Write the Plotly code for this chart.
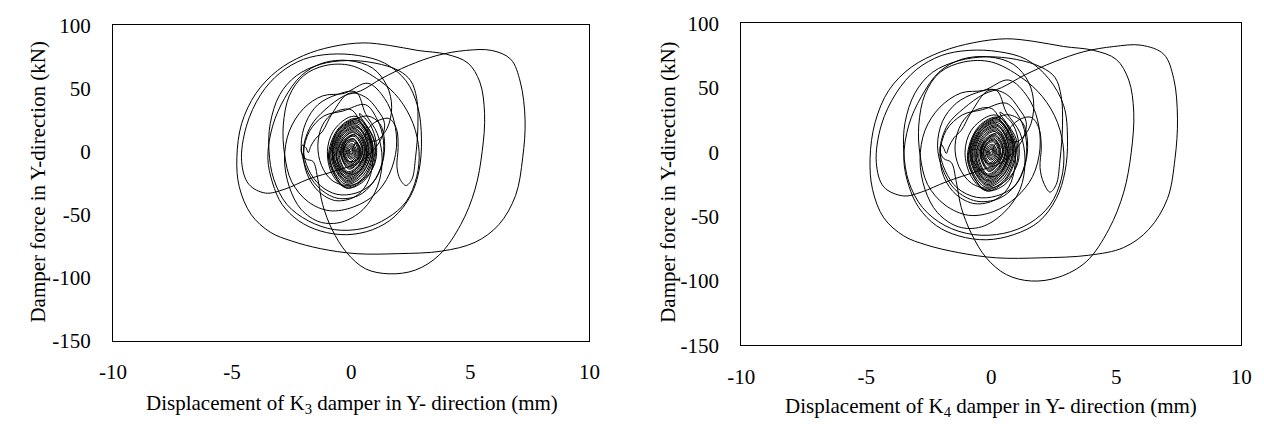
import plotly.graph_objects as go

# ---- K3 damper: displacement (mm) / force (kN) trace, in time order ----
k3_disp = [
    # start-up
    0.0, 0.2, 0.4, 0.3, -0.1, -0.35, -0.2, 0.2, 0.6, 0.55, 0.1, -0.5, -0.8, -0.6, 0.0,
    0.7, 1.2, 1.4, 1.3, 0.9, 0.2, -0.6, -1.3, -1.8, -2.0, -1.7, -1.1, -0.3, 0.4,
    # largest cycles
    1.3, 2.4, 3.6, 4.8, 5.9, 6.7, 7.1, 7.3, 7.2, 6.9, 6.2, 5.2, 3.8, 2.0, 0.2, -1.3, -2.5, -3.4, -4.2, -4.7,
    -4.8, -4.6, -4.0, -3.1, -2.0, -0.8, 0.5, 1.6,
    2.8, 4.0, 4.9, 5.4, 5.6, 5.5, 5.2, 4.6, 3.7, 2.7, 1.6, 0.6, -0.2, -0.8, -1.2, -1.4,
    -1.6, -1.9, -2.1, -2.05, -1.9, -1.8, -1.7, -1.5, -1.2, -0.8, -0.1, 0.6, 1.1, 1.4,
    1.2, 0.4, -0.6, -1.8, -2.8, -3.6, -4.3, -4.6, -4.4, -3.8, -3.0, -2.0, -0.9, 0.3, 1.4, 2.3, 2.8, 2.95,
    2.85, 2.5, 1.8, 0.9, -0.2, -1.3, -2.2, -2.9, -3.3, -3.5, -3.3, -2.8, -2.1, -1.2, -0.1,
    0.9, 1.5, 1.7, 1.5, 1.0, 0.6, 0.8, 1.2, 1.6, 1.9, 1.97, 1.92, 2.05, 2.3, 2.55, 2.7, 2.8, 2.75, 2.5, 2.0,
    # decaying medium cycles
    1.0, -0.2, -1.3, -2.3, -3.0, -3.4, -3.45, -3.25, -2.7, -1.8, -0.7, 0.5, 1.5, 2.3, 2.75, 2.85, 2.6, 2.0, 1.2,
    0.0, -1.1, -2.0, -2.6, -2.85, -2.8, -2.5, -1.8, -0.9, 0.1, 1.0, 1.6, 1.9, 1.8, 1.4, 0.7,
    -0.3, -1.2, -2.0, -2.6, -2.8, -2.6, -2.1, -1.3, -0.4, 0.5, 1.1, 1.3, 1.1, 0.6,
    0.2, -0.6, -1.4, -1.9, -2.1, -1.9, -1.4, -0.6, 0.3, 0.9, 1.3, 1.35, 1.1, 0.6,
    -0.35, -1.15, -1.75, -2.0, -1.85, -1.35, -0.65, 0.15, 0.65, 0.9, 0.85, 0.45,
    0.0, -0.7, -1.2, -1.4, -1.25, -0.8, -0.1, 0.6, 1.0, 1.05, 0.8, 0.35,
    # dense core
    0.35, 0.95, 0.95, 0.5, -0.2, -0.8, -1.0, -0.75, -0.1,
    0.3, 1.0, 0.6, -0.2, -0.95, -0.5,
    0.3, 0.92, 0.55, -0.25, -0.9, -0.5,
    0.25, 0.9, 0.5, -0.25, -0.9, -0.45,
    0.3, 0.85, 0.45, -0.2, -0.85, -0.4,
    0.3, 0.85, 0.45, -0.2, -0.8, -0.4,
    0.25, 0.8, 0.42, -0.18, -0.78, -0.42,
    0.2, 0.75, 0.4, -0.15, -0.75, -0.4,
    0.22, 0.72, 0.38, -0.2, -0.7, -0.36,
    0.25, 0.7, 0.35, -0.2, -0.65, -0.35,
    0.2, 0.65, 0.32, -0.16, -0.62, -0.32,
    0.2, 0.6, 0.3, -0.15, -0.6, -0.3,
    0.18, 0.58, 0.3, -0.15, -0.55, -0.28,
    0.15, 0.55, 0.3, -0.15, -0.5, -0.25,
    0.15, 0.5, 0.25, -0.1, -0.45, -0.25,
    0.14, 0.48, 0.24, -0.1, -0.43, -0.22,
    0.12, 0.45, 0.22, -0.1, -0.4, -0.2,
    0.1, 0.38, 0.2, -0.08, -0.35, -0.18,
    0.1, 0.35, 0.18, -0.08, -0.32, -0.16,
    0.1, 0.32, 0.15, -0.08, -0.3, -0.15,
    0.08, 0.28, 0.12, -0.06, -0.25, -0.12,
    0.06, 0.22, 0.1, -0.05, -0.2, -0.1,
    0.05, 0.18, 0.08, -0.04, -0.16, -0.08,
    0.04, 0.14, 0.06, -0.03, -0.12, -0.06,
    0.03, 0.1, 0.04, -0.02, -0.08, -0.04,
    0.02, 0.06, 0.02, -0.02, -0.05, 0.0,
]
k3_force = [
    0, 7, 2, -6, -8, -1, 9, 14, 6, -10, -18, -13, 0, 15, 24,
    28, 22, 8, -10, -25, -33, -34, -27, -14, 2, 20, 33, 44, 48,
    58, 68, 76, 80, 80, 73, 55, 25, -5, -35, -58, -72, -79, -81, -81, -77, -71, -64, -50, -28,
    -5, 22, 46, 64, 76, 83, 86, 84,
    80, 77, 70, 55, 30, 0, -30, -58, -82, -94, -97, -93, -80, -62, -42, -22,
    -8, -6, 0, 5, 3, -1, 4, 10, 16, 30, 46, 43, 33, 22,
    8, -8, -15, -22, -30, -33, -26, -8, 20, 45, 62, 73, 77, 76, 70, 56, 35, 10,
    -15, -35, -52, -62, -66, -63, -55, -42, -25, -5, 20, 42, 60, 70, 72,
    66, 52, 35, 18, 8, 12, 20, 25, 26, 18, 3, -12, -22, -27, -22, -5, 20, 42, 56, 64,
    70, 72, 69, 60, 45, 22, 0, -22, -42, -55, -62, -61, -53, -40, -20, 0, 22, 42, 56,
    68, 68, 60, 44, 21, -2, -24, -40, -47, -44, -34, -18, 3, 24, 42, 54,
    46, 44, 34, 16, -6, -28, -46, -56, -56, -46, -28, -6, 14, 30,
    47, 45, 37, 23, 5, -13, -28, -37, -35, -25, -9, 9, 25, 37,
    32, 28, 16, -1, -18, -32, -39, -36, -26, -10, 8, 21,
    33, 31, 21, 5, -11, -23, -27, -21, -9, 7, 21, 30,
    29, 10, -10, -24, -29, -18, 0, 16, 27,
    27, 5, -20, -29, -6, 19,
    26, 4, -20, -28, -6, 18,
    25, 4, -19, -26, -5, 17,
    24, 3, -18, -25, -4, 17,
    23, 3, -17, -24, -4, 16,
    22, 4, -16, -23, -5, 15,
    21, 4, -15, -22, -5, 14,
    20, 3, -15, -21, -4, 14,
    19, 3, -14, -20, -3, 13,
    18, 3, -13, -19, -4, 12,
    17, 3, -12, -18, -4, 11,
    16, 2, -12, -17, -3, 11,
    15, 2, -11, -16, -3, 10,
    13, 2, -10, -14, -2, 9,
    13, 2, -10, -13, -2, 9,
    12, 2, -9, -12, -2, 8,
    10, 1, -8, -11, -2, 7,
    10, 1, -8, -10, -1, 7,
    9, 1, -7, -9, -1, 6,
    8, 1, -6, -8, -1, 5,
    6, 1, -5, -6, -1, 4,
    5, 0, -4, -5, -1, 3,
    4, 0, -3, -4, 0, 2,
    3, 0, -2, -3, 0, 2,
    2, 0, -1.5, -2, 0, 0,
]

# ---- K4 damper: displacement (mm) / force (kN) trace, in time order ----
k4_disp = [
    0.0, 0.2, 0.45, 0.3, -0.1, -0.4, -0.2, 0.25, 0.6, 0.55, 0.1, -0.5, -0.85, -0.6, 0.0,
    0.7, 1.25, 1.45, 1.35, 0.95, 0.2, -0.6, -1.35, -1.85, -2.05, -1.75, -1.1, -0.3, 0.4,
    1.35, 2.5, 3.7, 4.9, 6.0, 6.9, 7.3, 7.45, 7.35, 7.05, 6.3, 5.3, 3.9, 2.0, 0.2, -1.3, -2.6, -3.5, -4.3, -4.75,
    -4.85, -4.65, -4.1, -3.2, -2.0, -0.7, 0.6, 1.7,
    2.9, 4.1, 5.0, 5.5, 5.7, 5.6, 5.3, 4.7, 3.8, 2.7, 1.6, 0.6, -0.2, -0.8, -1.2, -1.4,
    -1.6, -1.9, -2.05, -2.0, -1.9, -1.8, -1.7, -1.5, -1.2, -0.8, -0.1, 0.6, 1.1, 1.4,
    1.2, 0.4, -0.6, -1.8, -2.8, -3.5, -4.3, -4.6, -4.4, -3.8, -3.0, -2.0, -0.9, 0.3, 1.4, 2.3, 2.9, 3.05,
    2.95, 2.6, 1.9, 0.9, -0.2, -1.3, -2.2, -2.9, -3.3, -3.5, -3.3, -2.8, -2.1, -1.2, -0.1,
    0.9, 1.5, 1.7, 1.5, 1.0, 0.6, 0.8, 1.2, 1.6, 1.9, 2.0, 1.95, 2.1, 2.35, 2.6, 2.75, 2.85, 2.8, 2.55, 2.0,
    1.0, -0.2, -1.3, -2.35, -3.05, -3.45, -3.5, -3.3, -2.75, -1.85, -0.7, 0.5, 1.55, 2.35, 2.8, 2.9, 2.65, 2.05, 1.2,
    0.0, -1.1, -2.05, -2.65, -2.9, -2.85, -2.55, -1.85, -0.9, 0.1, 1.0, 1.65, 1.95, 1.85, 1.45, 0.7,
    -0.3, -1.2, -2.05, -2.65, -2.85, -2.65, -2.15, -1.3, -0.4, 0.5, 1.15, 1.35, 1.15, 0.6,
    0.2, -0.6, -1.4, -1.95, -2.15, -1.95, -1.45, -0.6, 0.3, 0.95, 1.35, 1.4, 1.15, 0.6,
    -0.35, -1.15, -1.8, -2.05, -1.9, -1.4, -0.65, 0.15, 0.7, 0.95, 0.9, 0.45,
    0.0, -0.7, -1.2, -1.45, -1.3, -0.8, -0.1, 0.6, 1.05, 1.1, 0.85, 0.35,
    0.35, 1.0, 1.0, 0.55, -0.2, -0.8, -1.05, -0.8, -0.1,
    0.3, 1.0, 0.6, -0.2, -0.95, -0.5,
    0.3, 0.95, 0.55, -0.25, -0.92, -0.5,
    0.25, 0.9, 0.5, -0.25, -0.9, -0.45,
    0.3, 0.88, 0.45, -0.2, -0.85, -0.4,
    0.3, 0.85, 0.45, -0.2, -0.82, -0.4,
    0.25, 0.8, 0.42, -0.18, -0.78, -0.42,
    0.2, 0.76, 0.4, -0.15, -0.75, -0.4,
    0.22, 0.72, 0.38, -0.2, -0.7, -0.36,
    0.25, 0.7, 0.35, -0.2, -0.66, -0.35,
    0.2, 0.65, 0.32, -0.16, -0.62, -0.32,
    0.2, 0.6, 0.3, -0.15, -0.6, -0.3,
    0.18, 0.58, 0.3, -0.15, -0.55, -0.28,
    0.15, 0.55, 0.3, -0.15, -0.5, -0.25,
    0.15, 0.5, 0.25, -0.1, -0.45, -0.25,
    0.14, 0.48, 0.24, -0.1, -0.43, -0.22,
    0.12, 0.45, 0.22, -0.1, -0.4, -0.2,
    0.1, 0.38, 0.2, -0.08, -0.35, -0.18,
    0.1, 0.35, 0.18, -0.08, -0.32, -0.16,
    0.1, 0.32, 0.15, -0.08, -0.3, -0.15,
    0.08, 0.28, 0.12, -0.06, -0.25, -0.12,
    0.06, 0.22, 0.1, -0.05, -0.2, -0.1,
    0.05, 0.18, 0.08, -0.04, -0.16, -0.08,
    0.04, 0.14, 0.06, -0.03, -0.12, -0.06,
    0.03, 0.1, 0.04, -0.02, -0.08, -0.04,
    0.02, 0.06, 0.02, -0.02, -0.05, 0.0,
]
k4_force = [
    0, 7, 2, -6, -9, -1, 9, 15, 6, -10, -19, -13, 0, 16, 25,
    29, 23, 8, -10, -26, -34, -35, -28, -14, 2, 21, 34, 45, 50,
    60, 70, 78, 82, 83, 76, 57, 26, -5, -36, -60, -74, -80, -82, -82, -78, -72, -65, -51, -29,
    -5, 23, 48, 66, 78, 85, 88, 86,
    82, 79, 72, 56, 31, 0, -31, -60, -85, -97, -100, -95, -82, -63, -43, -23,
    -8, -5, 1, 6, 3, -1, 4, 11, 17, 31, 48, 45, 34, 23,
    8, -8, -15, -23, -31, -34, -27, -8, 21, 46, 64, 75, 79, 78, 72, 57, 36, 10,
    -15, -36, -54, -64, -68, -65, -57, -43, -26, -5, 21, 43, 62, 72, 74,
    68, 54, 36, 18, 8, 12, 20, 26, 27, 19, 4, -12, -24, -31, -25, -6, 21, 43, 58, 66,
    72, 74, 71, 62, 46, 23, 0, -23, -43, -57, -64, -63, -55, -41, -21, 0, 23, 43, 58,
    70, 70, 62, 45, 21, -2, -25, -41, -49, -46, -35, -19, 3, 25, 43, 56,
    48, 46, 35, 17, -6, -29, -47, -58, -58, -47, -29, -6, 15, 31,
    48, 46, 38, 24, 5, -13, -29, -38, -36, -26, -9, 9, 26, 38,
    33, 29, 17, -1, -19, -33, -40, -37, -27, -10, 8, 22,
    34, 32, 22, 5, -11, -24, -28, -22, -9, 7, 22, 31,
    30, 10, -10, -25, -30, -19, 0, 17, 28,
    28, 5, -21, -30, -6, 20,
    27, 4, -21, -29, -6, 19,
    26, 4, -20, -27, -5, 18,
    25, 3, -19, -26, -4, 18,
    24, 3, -18, -25, -4, 17,
    23, 4, -17, -24, -5, 16,
    22, 4, -16, -23, -5, 15,
    21, 3, -16, -22, -4, 15,
    20, 3, -15, -21, -3, 14,
    19, 3, -14, -20, -4, 13,
    18, 3, -13, -19, -4, 12,
    17, 2, -12, -18, -3, 11,
    16, 2, -11, -17, -3, 10,
    14, 2, -10, -15, -2, 9,
    13, 2, -10, -14, -2, 9,
    12, 2, -9, -13, -2, 8,
    11, 1, -8, -11, -2, 7,
    10, 1, -8, -10, -1, 7,
    9, 1, -7, -9, -1, 6,
    8, 1, -6, -8, -1, 5,
    6, 1, -5, -6, -1, 4,
    5, 0, -4, -5, -1, 3,
    4, 0, -3, -4, 0, 2,
    3, 0, -2, -3, 0, 2,
    2, 0, -1.5, -2, 0, 0,
]

# ---- axis ticks ----
x_ticks = [-10, -5, 0, 5, 10]
x_tick_text = ["-10", "-5", "0", "5", "10"]
y_ticks = [-150, -100, -50, 0, 50, 100]
y_tick_text = ["-150", "-100", "-50", "0", "50", "100"]

FONT = "Times New Roman"
W, H = 1264, 433

fig = go.Figure()
line_style = dict(color="black", width=1, shape="spline", smoothing=1.0)
fig.add_trace(go.Scatter(x=k3_disp, y=k3_force, mode="lines", line=line_style,
                         xaxis="x", yaxis="y", showlegend=False, hoverinfo="skip"))
fig.add_trace(go.Scatter(x=k4_disp, y=k4_force, mode="lines", line=line_style,
                         xaxis="x2", yaxis="y2", showlegend=False, hoverinfo="skip"))


def px_x(p):
    return p / W


def px_y(p):
    return 1 - p / H


tick_font = dict(family=FONT, size=21, color="black")


def x_axis(domain, anchor):
    return dict(domain=domain, anchor=anchor, range=[-10, 10], tickvals=x_ticks,
                ticktext=x_tick_text, ticks="", ticklabelstandoff=12,
                showgrid=False, zeroline=False,
                showline=True, linecolor="black", linewidth=1, mirror=True,
                tickfont=tick_font, fixedrange=True)


def y_axis(domain, anchor):
    return dict(domain=domain, anchor=anchor, range=[-150, 100], tickvals=y_ticks,
                ticktext=y_tick_text, ticks="", ticklabelstandoff=17,
                showgrid=False, zeroline=False,
                showline=True, linecolor="black", linewidth=1, mirror=True,
                tickfont=tick_font, fixedrange=True)


title_font = dict(family=FONT, size=21, color="black")
fig.update_layout(
    width=W, height=H,
    margin=dict(l=0, r=0, t=0, b=0),
    paper_bgcolor="white", plot_bgcolor="white",
    font=dict(family=FONT, size=21, color="black"),
    xaxis=x_axis([px_x(101), px_x(587)], "y"),
    yaxis=y_axis([px_y(348), px_y(14)], "x"),
    xaxis2=x_axis([px_x(742), px_x(1252)], "y2"),
    yaxis2=y_axis([px_y(353), px_y(12)], "x2"),
    annotations=[
        dict(text="Displacement of K<sub>3</sub> damper in Y- direction (mm)",
             x=px_x(345), y=px_y(415), xref="paper", yref="paper",
             showarrow=False, xanchor="center", yanchor="middle", font=title_font),
        dict(text="Damper force in Y-direction (kN)", textangle=-90,
             x=px_x(24), y=px_y(180), xref="paper", yref="paper",
             showarrow=False, xanchor="center", yanchor="middle", font=title_font),
        dict(text="Displacement of K<sub>4</sub> damper in Y- direction (mm)",
             x=px_x(997), y=px_y(418), xref="paper", yref="paper",
             showarrow=False, xanchor="center", yanchor="middle", font=title_font),
        dict(text="Damper force in Y-direction (kN)", textangle=-90,
             x=px_x(667), y=px_y(180), xref="paper", yref="paper",
             showarrow=False, xanchor="center", yanchor="middle", font=title_font),
    ],
)

fig.write_html("out.html")
